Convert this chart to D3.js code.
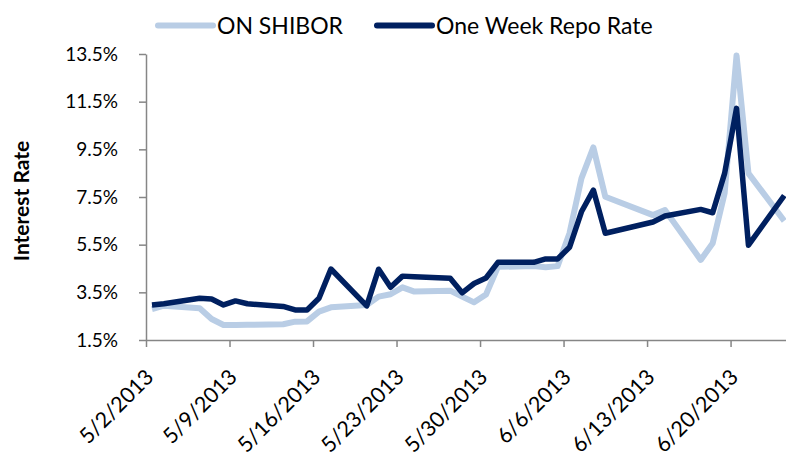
<!DOCTYPE html>
<html>
<head>
<meta charset="utf-8">
<script src="https://cdn.jsdelivr.net/npm/d3@7"></script>
<style>
  body { margin: 0; background: #fff; }
  svg { display: block; font-family: Lato, "Open Sans", sans-serif; }
</style>
</head>
<body>
<div id="chart"></div>
<script>
// Data (business days, China 2013)
//-----------
var dates = ["2013-05-02","2013-05-03","2013-05-06","2013-05-07","2013-05-08","2013-05-09","2013-05-10",
  "2013-05-13","2013-05-14","2013-05-15","2013-05-16","2013-05-17","2013-05-20","2013-05-21","2013-05-22",
  "2013-05-23","2013-05-24","2013-05-27","2013-05-28","2013-05-29","2013-05-30","2013-05-31","2013-06-03",
  "2013-06-04","2013-06-05","2013-06-06","2013-06-07","2013-06-08","2013-06-09","2013-06-13","2013-06-14",
  "2013-06-17","2013-06-18","2013-06-19","2013-06-20","2013-06-21","2013-06-24"];

var shibor = [2.80, 2.94, 2.83, 2.38, 2.13, 2.13, 2.14,
  2.16, 2.27, 2.28, 2.69, 2.87, 2.97, 3.32, 3.42,
  3.71, 3.53, 3.57, 3.32, 3.08, 3.41, 4.57, 4.60,
  4.55, 4.60, 5.98, 8.28, 9.58, 7.51, 6.74, 6.95,
  4.86, 5.56, 7.65, 13.44, 8.49, 6.50];

var repo = [2.97, 3.02, 3.25, 3.22, 2.97, 3.14, 3.02,
  2.91, 2.76, 2.76, 3.25, 4.48, 2.93, 4.47, 3.71,
  4.18, 4.15, 4.09, 3.48, 3.87, 4.10, 4.76, 4.76,
  4.90, 4.90, 5.39, 6.88, 7.79, 5.98, 6.45, 6.70,
  6.98, 6.84, 8.49, 11.22, 5.48, 7.56];

var xTickLabels = ["5/2/2013","5/9/2013","5/16/2013","5/23/2013","5/30/2013","6/6/2013","6/13/2013","6/20/2013"];
var yTicks = [1.5, 3.5, 5.5, 7.5, 9.5, 11.5, 13.5];
var seriesNames = ["ON SHIBOR", "One Week Repo Rate"];
var seriesColors = ["#b9cde5", "#002060"];

// Layout
//-----------
var w = 786, h = 452;
var plotLeft = 146, plotTop = 54, plotBottom = 340;
var dayPx = 11.93;

var parseIso = d3.utcParse("%Y-%m-%d");
var parseMdy = d3.utcParse("%-m/%-d/%Y");
var fmtMdy = d3.utcFormat("%-m/%-d/%Y");

var d0 = parseIso(dates[0]);
var d1 = d3.utcDay.offset(parseIso(dates[dates.length - 1]), 1);
var x = d3.scaleUtc([d0, d1], [plotLeft, plotLeft + dayPx * d3.utcDay.count(d0, d1)]);
var y = d3.scaleLinear([1.5, 13.5], [plotBottom, plotTop]);

// points sit in the middle of each day
function px(s) { return x(d3.utcHour.offset(parseIso(s), 12)); }

var svg = d3.select("#chart").append("svg")
  .attr("width", w)
  .attr("height", h);

// Axes
//-----------
var yAxis = svg.append("g")
  .attr("transform", "translate(" + plotLeft + ",0)")
  .call(d3.axisLeft(y).tickValues(yTicks).tickSize(7).tickSizeOuter(0)
    .tickFormat(function(d) { return d.toFixed(1) + "%"; }));
yAxis.selectAll("path, line").attr("stroke", "#868686").attr("stroke-width", 1.5);
yAxis.selectAll("text")
  .attr("x", -28)
  .attr("font-family", "Lato, sans-serif")
  .attr("font-size", "19px")
  .attr("fill", "#000");

var xAxis = svg.append("g")
  .attr("transform", "translate(0," + plotBottom + ")")
  .call(d3.axisBottom(x).tickValues(xTickLabels.map(parseMdy)).tickSize(7).tickSizeOuter(0)
    .tickFormat(fmtMdy));
xAxis.selectAll("path, line").attr("stroke", "#868686").attr("stroke-width", 1.5);
xAxis.selectAll("text")
  .attr("text-anchor", "end")
  .attr("font-family", "Lato, sans-serif")
  .attr("font-size", "21.5px")
  .attr("fill", "#000")
  .attr("dy", "0.35em")
  .attr("transform", "translate(-4,26) rotate(-45)");

svg.append("text")
  .text("Interest Rate")
  .attr("transform", "translate(29,201) rotate(-90)")
  .attr("text-anchor", "middle")
  .attr("font-family", "Lato, sans-serif")
  .attr("font-weight", "bold")
  .attr("font-size", "21px")
  .attr("fill", "#000");

// Lines
//-----------
var line = d3.line()
  .x(function(d, i) { return px(dates[i]); })
  .y(function(d) { return y(d); });

svg.append("path")
  .datum(shibor)
  .attr("d", line)
  .attr("fill", "none")
  .attr("stroke", seriesColors[0])
  .attr("stroke-width", 6)
  .attr("stroke-linejoin", "round");

svg.append("path")
  .datum(repo)
  .attr("d", line)
  .attr("fill", "none")
  .attr("stroke", seriesColors[1])
  .attr("stroke-width", 5.5)
  .attr("stroke-linejoin", "round");

// Legend
//-----------
var legendX = [158, 377];
var legend = svg.selectAll("g.legend")
  .data(seriesNames)
  .enter()
  .append("g")
  .attr("class", "legend")
  .attr("transform", function(d, i) { return "translate(" + legendX[i] + ",25.5)"; });

legend.append("line")
  .attr("x1", 0).attr("x2", 55)
  .attr("stroke", function(d, i) { return seriesColors[i]; })
  .attr("stroke-width", 6)
  .attr("stroke-linecap", "round");

legend.append("text")
  .text(function(d) { return d; })
  .attr("x", 59)
  .attr("dy", "0.36em")
  .attr("font-family", "Lato, sans-serif")
  .attr("font-size", "23px")
  .attr("fill", "#000");
</script>
</body>
</html>
